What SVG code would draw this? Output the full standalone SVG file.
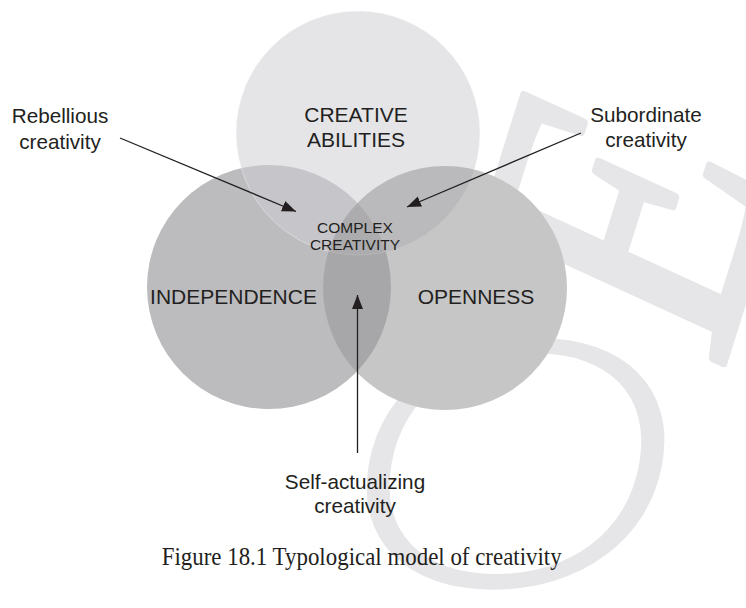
<svg xmlns="http://www.w3.org/2000/svg" width="746" height="608" viewBox="0 0 746 608">
  <style>
    .lbl { font-family: "Liberation Sans", Arial, sans-serif; fill: #231f20; text-anchor: middle; }
    .big { font-size: 21px; }
    .side { font-size: 20.7px; }
    .small { font-size: 15.5px; }
    .cap { font-family: "Liberation Serif", "Times New Roman", serif; font-size: 24.5px; fill: #231f20; }
    .wm { fill: #e6e6e8; }
    .conn { stroke: #231f20; stroke-width: 1.3; fill: none; marker-end: url(#head); }
  </style>
  <defs>
    <marker id="head" markerUnits="userSpaceOnUse" markerWidth="16" markerHeight="12" refX="14" refY="6" orient="auto">
      <path d="M0,0.5 L14,6 L0,11.5 Z" fill="#231f20"/>
    </marker>
  </defs>

  <rect width="746" height="608" fill="#ffffff"/>

  <!-- faint background letters -->
  <g id="backdrop">
    <text class="wm" font-family="'Liberation Serif', serif" font-size="415" stroke="#e6e6e8" stroke-width="9" stroke-linejoin="round" transform="translate(720,372.4) rotate(-65.3) skewY(-7.3) scale(0.79,1)">E</text>
    <text class="wm" font-family="Lato, sans-serif" font-weight="300" font-size="435" text-anchor="middle" transform="translate(515,467) skewX(-10) scale(1,0.8)" y="150">O</text>
  </g>

  <!-- white base so the backdrop does not show through the circles -->
  <g fill="#ffffff">
    <circle cx="269" cy="287" r="122"/>
    <circle cx="358" cy="133" r="122"/>
    <circle cx="445" cy="288" r="122"/>
  </g>

  <g id="independence">
    <circle cx="269" cy="287" r="122" fill="#bcbcbe"/>
    <text class="lbl big" x="233.5" y="304">INDEPENDENCE</text>
  </g>
  <g id="creative-abilities">
    <circle cx="358" cy="133" r="122" fill="#d0d0d4" fill-opacity="0.545" stroke="#ffffff" stroke-opacity="0.45" stroke-width="0.8"/>
  </g>
  <g id="openness">
    <circle cx="445" cy="288" r="122" fill="#969699" fill-opacity="0.545"/>
    <text class="lbl big" x="476" y="304">OPENNESS</text>
  </g>
  <g id="creative-abilities-label">
    <text class="lbl big" x="356" y="122">CREATIVE</text>
    <text class="lbl big" x="356" y="147">ABILITIES</text>
  </g>
  <g id="complex-creativity">
    <text class="lbl small" x="355" y="232.5">COMPLEX</text>
    <text class="lbl small" x="355" y="250">CREATIVITY</text>
  </g>

  <g id="rebellious">
    <text class="lbl side" x="60" y="122.5">Rebellious</text>
    <text class="lbl side" x="60" y="149">creativity</text>
  </g>
  <g id="subordinate">
    <text class="lbl side" x="646" y="121.7">Subordinate</text>
    <text class="lbl side" x="646" y="147.3">creativity</text>
  </g>
  <g id="self-actualizing">
    <text class="lbl side" x="355" y="488.5">Self-actualizing</text>
    <text class="lbl side" x="355" y="513">creativity</text>
  </g>

  <g id="connectors">
    <line class="conn" x1="120" y1="138" x2="296" y2="211.5"/>
    <line class="conn" x1="581" y1="133" x2="407" y2="207"/>
    <line class="conn" x1="357.5" y1="453" x2="357.5" y2="295"/>
  </g>

  <text class="cap" x="161.7" y="565" textLength="400" lengthAdjust="spacingAndGlyphs">Figure 18.1 Typological model of creativity</text>
</svg>
